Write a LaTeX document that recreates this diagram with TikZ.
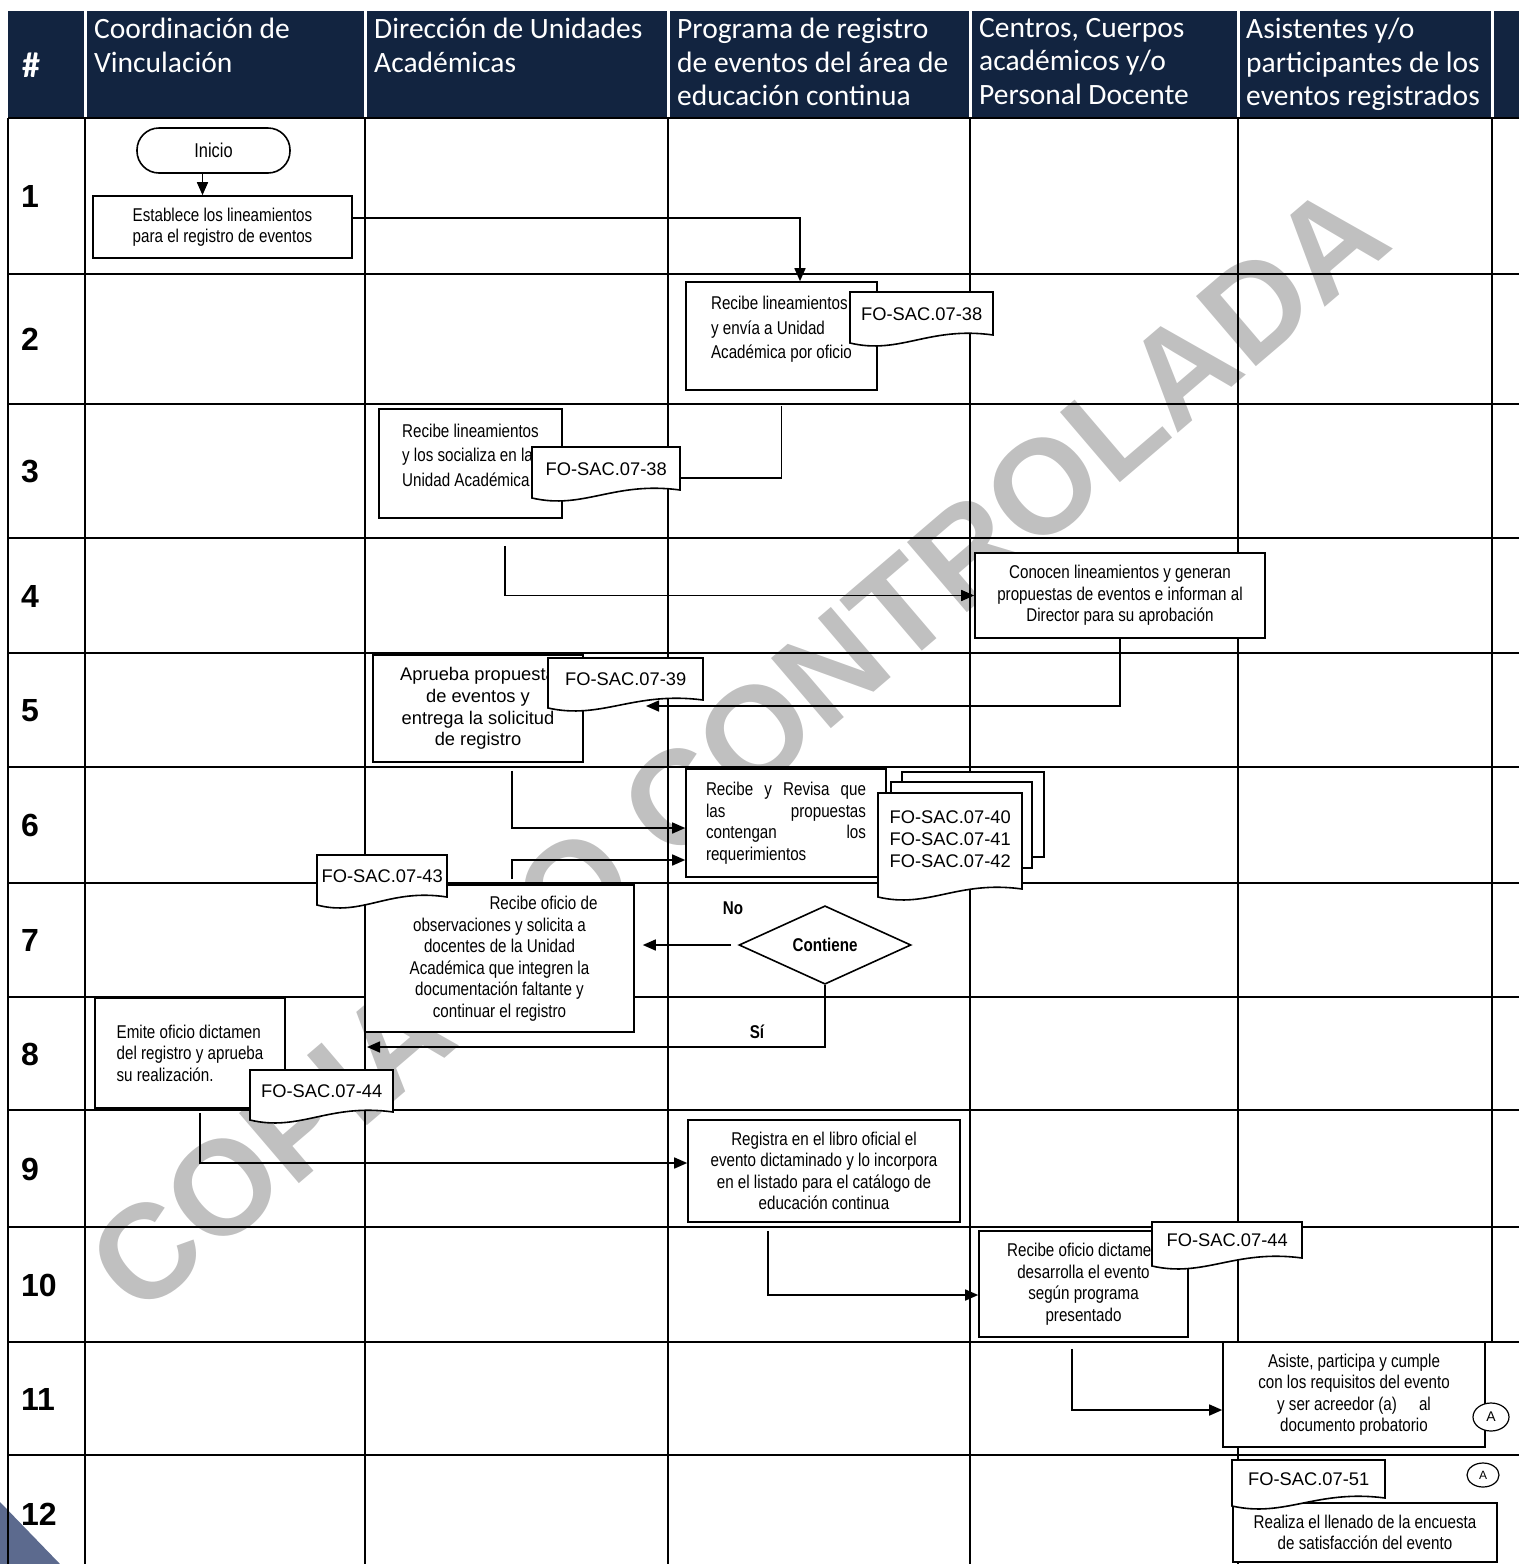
\documentclass[tikz,border=0pt]{standalone}
\usepackage{fontspec}
\setmainfont{Liberation Sans}
\newfontfamily\narrowfont[FakeStretch=0.82]{Liberation Sans}
\newfontfamily\headfont{Carlito}
\usetikzlibrary{arrows.meta, shapes.geometric}

\definecolor{headnavy}{RGB}{18,36,64}
\definecolor{markgray}{RGB}{192,192,192}
\definecolor{cornerblue}{RGB}{92,106,142}

\newcommand{\boxfont}{\narrowfont\fontsize{18.5}{21.5}\selectfont}
\newcommand{\wideboxfont}{\narrowfont\fontsize{18.5}{24.5}\selectfont}
\newcommand{\formfont}{\fontsize{18.3}{21.6}\selectfont}
\newcommand{\headtext}{\headfont\fontsize{29.5}{33.5}\selectfont}

% document symbol: name, left, top, width, right side height, text
\newcommand{\docform}[6]{%
  \filldraw[docline] (#2,#3) -- ++(#4,0) -- ++(0,#5)
    .. controls +({-0.45*#4},-9) and +({0.35*#4},12) .. (#2,{#3+#5+8}) -- cycle;
  \node[formtext, minimum width=#4pt, minimum height=#5pt] (#1) at (#2,#3) {#6};}

\begin{document}
\begin{tikzpicture}[x=1pt, y=-1pt]
\tikzstyle{gridline}=[line width=2pt]
\tikzstyle{headcell}=[anchor=north west, text=white, font=\headtext, align=left, inner sep=0pt]
\tikzstyle{rowno}=[anchor=west, font=\bfseries\fontsize{32}{32}\selectfont, inner sep=0pt]
\tikzstyle{actbox}=[draw, fill=white, line width=1.6pt, font=\boxfont, inner sep=0pt, align=center]
\tikzstyle{termbox}=[actbox, rounded corners=22pt]
\tikzstyle{decision}=[diamond, draw, fill=white, line width=1.6pt, inner sep=0pt,
                        minimum width=172pt, minimum height=66pt, font=\boxfont\bfseries]
\tikzstyle{docline}=[draw, fill=white, line width=1.6pt]
\tikzstyle{formtext}=[anchor=north west, inner sep=0pt, font=\formfont]
\tikzstyle{connector}=[ellipse, draw, fill=white, line width=1.2pt, inner sep=0pt]
\tikzstyle{lbl}=[inner sep=0pt, font=\boxfont\bfseries]
\tikzstyle{flow}=[line width=1.6pt, -{Triangle[length=13pt, width=11pt]}]
\tikzstyle{link}=[line width=1.6pt]
\tikzstyle{watermark}=[rotate=40.5, text=markgray, inner sep=0pt,
                        font=\bfseries\fontsize{134}{134}\selectfont]
\useasboundingbox (0,0) rectangle (1519,1564);

% watermark and corner
\node[watermark] (wm) at (738,748) {COPIA NO CONTROLADA};
\fill[cornerblue] (0,1502) -- (60,1564) -- (0,1564) -- cycle;

% grid
\foreach \x in {8,85,365,668,970,1238}
  \draw[gridline] (\x,118) -- (\x,1564);
\draw[gridline] (1492,118) -- (1492,1342);
\foreach \y in {118,274,404,538,653,767,883,997,1110,1227,1342,1455}
  \draw[gridline] (8,\y) -- (1519,\y);

% header
\fill[headnavy] (8,11) rectangle (1519,117);
\foreach \x in {85,365,668,970,1238,1492}
  \draw[white, line width=3pt] (\x,11) -- (\x,117);
\node[text=white, font=\headfont\bfseries\fontsize{36}{36}\selectfont] (hnum) at (31,65) {\#};
\node[headcell] (hcoord) at (94,18) {Coordinación de\\Vinculación};
\node[headcell] (hdir) at (374,18) {Dirección de Unidades\\Académicas};
\node[headcell] (hprog) at (677,18) {Programa de registro\\de eventos del área de\\educación continua};
\node[headcell] (hcent) at (979,18) {Centros, Cuerpos\\académicos y/o\\Personal Docente};
\node[headcell] (hasis) at (1246,18) {Asistentes y/o\\participantes de los\\eventos registrados};

\foreach \n/\y in {1/196,2/339,3/471,4/596,5/711,6/825,7/940,8/1054,9/1169,10/1285,11/1399,12/1514}
  \node[rowno] (row\n) at (21,\y) {\n};

% rows 1 to 4
\node[termbox, font=\narrowfont\fontsize{20}{20}\selectfont, minimum width=153pt, minimum height=45pt] (start) at (213.5,150.5) {Inicio};
\node[actbox, minimum width=259pt, minimum height=62pt] (b1) at (222.5,227)
  {Establece los lineamientos\\para el registro de eventos};
\node[actbox, font=\wideboxfont, minimum width=191pt, minimum height=108pt, align=left] (b2) at (781.5,336)
  {Recibe lineamientos\\y envía a Unidad\\Académica por oficio\\[-8pt]};
\docform{d1}{850}{292}{143}{43}{FO-SAC.07-38}
\node[actbox, font=\wideboxfont, minimum width=183pt, minimum height=109pt, align=left] (b3) at (470.5,463.5)
  {Recibe lineamientos\\y los socializa en la\\Unidad Académica\\[-8pt]};
\docform{d2}{532}{447}{148}{43}{FO-SAC.07-38}
\node[actbox, minimum width=290pt, minimum height=85pt] (b4) at (1120,595.5)
  {Conocen lineamientos y generan\\propuestas de eventos e informan al\\Director para su aprobación};

% rows 5 to 8
\node[actbox, font=\formfont, minimum width=210pt, minimum height=107pt] (b5) at (478,708.5)
  {Aprueba propuesta\\de eventos y\\entrega la solicitud\\de registro};
\docform{d3}{548}{658}{155}{42}{FO-SAC.07-39}
\node[actbox, minimum width=200pt, minimum height=108pt, text width=160pt, align=left] (b6) at (786,823)
  {Recibe \hfill y \hfill Revisa \hfill que\\las \hfill propuestas\\contengan \hfill los\\requerimientos};
\filldraw[docline] (902,772) rectangle (1044,857);
\filldraw[docline] (891,782) rectangle (1032,868);
\docform{d4}{878}{793}{144}{96}{\begin{tabular}{@{}l@{}}FO-SAC.07-40\\FO-SAC.07-41\\FO-SAC.07-42\end{tabular}}
\node[actbox, minimum width=269pt, minimum height=147pt] (b7) at (499.5,958.5)
  {\hspace*{88pt}Recibe oficio de\\observaciones y solicita a\\docentes de la Unidad\\Académica que integren la\\documentación faltante y\\continuar el registro};
\docform{d5}{317}{855}{130}{42}{FO-SAC.07-43}
\node[decision] (dia) at (825,945) {Contiene};
\node[lbl] (lno) at (733,908) {No};
\node[lbl] (lsi) at (757,1032) {Sí};
\node[actbox, minimum width=190pt, minimum height=110pt, align=left] (b8) at (190,1053)
  {Emite oficio dictamen\\del registro y aprueba\\su realización.};
\docform{d6}{250}{1070}{143}{42}{FO-SAC.07-44}

% rows 9 to 12
\node[actbox, minimum width=272pt, minimum height=102pt] (b9) at (824,1171)
  {Registra en el libro oficial el\\evento dictaminado y lo incorpora\\en el listado para el catálogo de\\educación continua};
\node[actbox, minimum width=209pt, minimum height=106pt] (b10) at (1083.5,1284)
  {Recibe oficio dictamen\\desarrolla el evento\\según programa\\presentado};
\docform{d7}{1152}{1222}{150}{36}{FO-SAC.07-44}
\node[actbox, minimum width=262pt, minimum height=105pt] (b11) at (1354,1394.5)
  {Asiste, participa y cumple\\con los requisitos del evento\\y ser acreedor (a)\hspace{1.2em}al\\documento probatorio};
\node[connector, minimum width=36pt, minimum height=28pt, font=\fontsize{14}{14}\selectfont] (conA) at (1491,1417) {A};
\node[actbox, minimum width=264pt, minimum height=59pt] (b12) at (1365,1532.5)
  {Realiza el llenado de la encuesta\\de satisfacción del evento};
\docform{d8}{1232}{1460}{153}{38}{FO-SAC.07-51}
\node[connector, minimum width=32pt, minimum height=24pt, font=\fontsize{12}{12}\selectfont] (conB) at (1483,1475) {A};

% connectors
\coordinate (c5tip) at (646,706);
\coordinate (c8tip) at (367,1047);
\draw[flow] ([xshift=-11pt]start.south) -- ([xshift=-11pt]start.south |- b1.north);
\draw[flow] ([yshift=9pt]b1.east) -| ([xshift=18.5pt]b2.north);
\draw[link] ([yshift=-15pt]b2.south) |- ([yshift=-9.5pt]d2.east);
\draw[flow] ([xshift=34.5pt,yshift=-27pt]b3.south) |- (b4.west);
\draw[flow] (b4.south) |- (c5tip);
\draw[flow] ([xshift=34pt,yshift=-8pt]b5.south) |- ([yshift=-5pt]b6.west);
\draw[flow] ([xshift=12.5pt,yshift=5pt]b7.north) |- ([yshift=-37pt]b6.west);
\draw[flow] ([xshift=-7pt]dia.west) -- ([xshift=8pt]dia.west -| b7.east);
\draw[flow] (dia.south) |- (c8tip);
\draw[flow] ([xshift=10pt,yshift=-4pt]b8.south) |- ([yshift=8pt]b9.west);
\draw[flow] ([xshift=-56pt,yshift=-8pt]b9.south) |- ([yshift=-11pt]b10.west);
\draw[flow] ([xshift=-11.5pt,yshift=-11pt]b10.south) |- ([yshift=-15.5pt]b11.west);
\end{tikzpicture}
\end{document}
